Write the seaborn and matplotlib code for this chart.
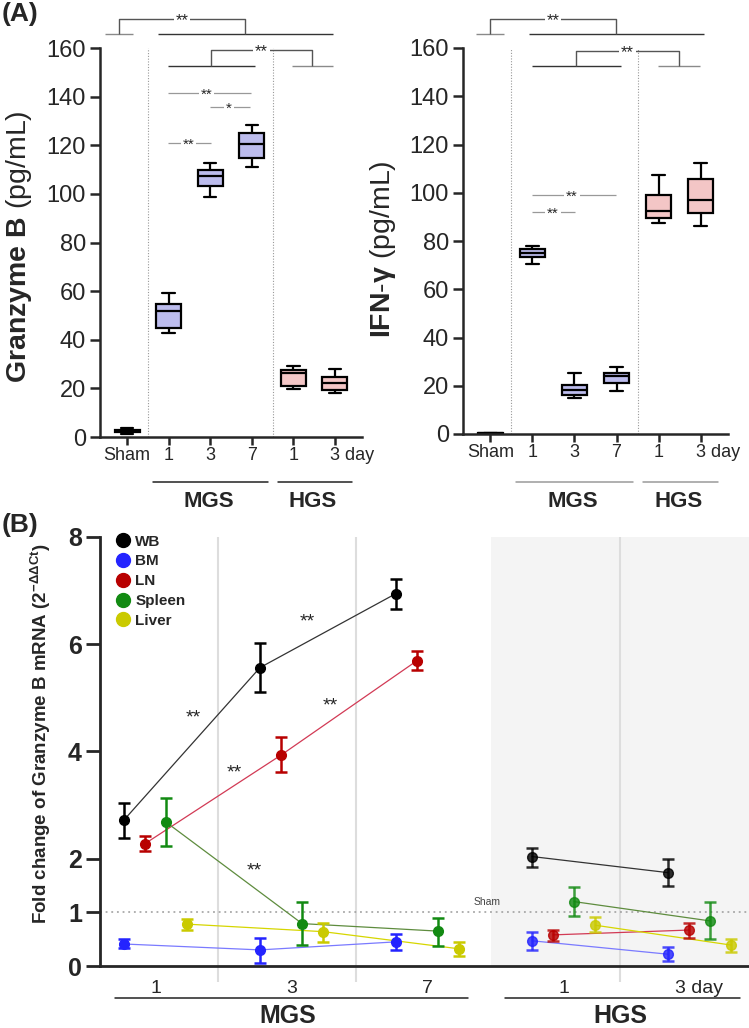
import numpy as np
import pandas as pd
import matplotlib
matplotlib.use("Agg")
import matplotlib.pyplot as plt
import matplotlib.transforms as mtransforms
from matplotlib.lines import Line2D
import seaborn as sns

# ---- panel A data: (min, q1, median, q3, max) ----
groups = ["Sham", "MGS 1", "MGS 3", "MGS 7", "HGS 1", "HGS 3"]
tick_labels = ["Sham", "1", "3", "7", "1", "3 day"]
gzmb_boxes = [[1.4, 1.9, 2.3, 2.8, 3.7],
              [42.8, 44.9, 51.7, 54.9, 59.4],
              [98.8, 103.2, 107.4, 109.7, 112.7],
              [111.1, 114.7, 120.4, 125.1, 128.4],
              [19.8, 20.9, 26.3, 27.4, 29.1],
              [18.3, 19.5, 22.2, 24.7, 28.1]]
ifng_boxes = [[0.1, 0.2, 0.3, 0.4, 0.5],
              [70.3, 73.2, 75.2, 76.7, 78.1],
              [15.1, 16.3, 18.1, 20.2, 25.2],
              [17.8, 21.0, 24.0, 25.4, 27.7],
              [87.3, 89.5, 92.4, 99.0, 107.5],
              [86.1, 91.7, 97.0, 105.7, 112.4]]
box_colors = {"Sham": "#ffffff", "MGS 1": "#b4b4f5", "MGS 3": "#b4b4f5", "MGS 7": "#b4b4f5",
              "HGS 1": "#fabebe", "HGS 3": "#fabebe"}

# ---- panel B data: mean and error bar ends per tissue (MGS 1,3,7, HGS 1,3) ----
tissues = ["WB", "BM", "LN", "Spleen", "Liver"]
timepoints = ["MGS 1", "MGS 3", "MGS 7", "HGS 1", "HGS 3"]
wb_mean = [2.72, 5.56, 6.94, 2.04, 1.74]
wb_lo = [2.38, 5.11, 6.66, 1.85, 1.50]
wb_hi = [3.04, 6.01, 7.22, 2.20, 1.99]
bm_mean = [0.41, 0.30, 0.45, 0.47, 0.22]
bm_lo = [0.33, 0.05, 0.30, 0.30, 0.10]
bm_hi = [0.50, 0.53, 0.60, 0.63, 0.35]
ln_mean = [2.28, 3.93, 5.69, 0.58, 0.67]
ln_lo = [2.14, 3.61, 5.51, 0.47, 0.53]
ln_hi = [2.43, 4.27, 5.87, 0.68, 0.81]
spleen_mean = [2.68, 0.79, 0.65, 1.20, 0.84]
spleen_lo = [2.24, 0.40, 0.38, 0.93, 0.50]
spleen_hi = [3.13, 1.19, 0.89, 1.48, 1.19]
liver_mean = [0.78, 0.64, 0.32, 0.76, 0.39]
liver_lo = [0.67, 0.45, 0.19, 0.63, 0.27]
liver_hi = [0.875, 0.81, 0.44, 0.91, 0.50]
day_labels = ["1", "3", "7", "1", "3 day"]

marker_colors = {"WB": "#000000", "BM": "#2424ff", "LN": "#b80000", "Spleen": "#128a12", "Liver": "#caca00"}
line_colors = {"WB": "#333333", "BM": "#7a7aff", "LN": "#d23a55", "Spleen": "#5e8c3e", "Liver": "#d6d600"}
offsets = {"WB": 0.0, "BM": 0.0, "LN": 0.155, "Spleen": 0.31, "Liver": 0.465}

sns.set_style("ticks")
plt.rcParams["font.family"] = ["Liberation Sans", "DejaVu Sans"]
plt.rcParams["mathtext.fontset"] = "custom"
plt.rcParams["mathtext.rm"] = "Liberation Sans"
plt.rcParams["mathtext.bf"] = "Liberation Sans:bold"
plt.rcParams["mathtext.it"] = "Liberation Sans:italic"
NARROW = ["Liberation Sans Narrow", "Liberation Sans"]

W, H = 749, 1028
fig = plt.figure(figsize=(W / 100, H / 100), dpi=100)
axA1 = fig.add_axes([100 / W, 1 - 437 / H, 262 / W, 389 / H])
axA2 = fig.add_axes([463 / W, 1 - 434 / H, 265 / W, 386 / H])
axB = fig.add_axes([100 / W, 1 - 966 / H, 649 / W, 429.3 / H])


def seg(ax, xs, ys, color, lw=1.0):
    ax.plot(xs, ys, color=color, lw=lw, clip_on=False, solid_capstyle="butt", zorder=3)


def stars(ax, x, y, s, size=12):
    ax.text(x, y - 0.8, s, ha="center", va="center", fontsize=size, clip_on=False, zorder=5,
            bbox=dict(fc="white", ec="none", pad=1.2))


def box_panel(ax, boxes, ylabel, label_xy, top, second, inner, under_color):
    df = pd.DataFrame({"group": np.repeat(groups, 5), "value": np.concatenate(boxes)})
    sns.boxplot(data=df, x="group", y="value", hue="group", order=groups, hue_order=groups,
                palette=box_colors, width=0.6, whis=(0, 100), showfliers=False,
                linewidth=1.6, linecolor="black", legend=False, ax=ax)
    ax.set_xlim(-0.65, 5.65)
    ax.set_ylim(0, 160)
    ax.set_yticks(range(0, 161, 20))
    ax.tick_params(axis="y", labelsize=17, width=1.8, length=7, pad=3)
    ax.tick_params(axis="x", width=1.8, length=6, pad=1)
    ax.set_xticks(range(6))
    ax.set_xticklabels(tick_labels, fontsize=13, family=NARROW)
    last = ax.get_xticklabels()[-1]
    last.set_horizontalalignment("left")
    last.set_transform(last.get_transform() + mtransforms.ScaledTranslation(-5 / 100, 0, fig.dpi_scale_trans))
    ax.set_xlabel("")
    ax.set_ylabel(ylabel, fontsize=20.5)
    ax.yaxis.set_label_coords(*label_xy)
    for sp in ["left", "bottom"]:
        ax.spines[sp].set_linewidth(1.8)
    sns.despine(ax=ax)
    ax.vlines([0.5, 3.5], 0, 160, colors="#999999", lw=0.8, linestyles=(0, (1, 1.5)), zorder=0)
    # brackets above the plot
    (sx0, sx1, lx0, lx1, v0, v1, yb, yt) = top
    seg(ax, [sx0, sx1], [yb, yb], "#8a8a8a")
    seg(ax, [lx0, lx1], [yb, yb], "#333333")
    seg(ax, [v0, v0, v1, v1], [yb, yt, yt, yb], "#555555")
    stars(ax, (v0 + v1) / 2, yt, "**")
    (mx0, mx1, hx0, hx1, w0, w1, yb2, yt2) = second
    seg(ax, [mx0, mx1], [yb2, yb2], "#333333")
    seg(ax, [hx0, hx1], [yb2, yb2], "#8a8a8a")
    seg(ax, [w0, w0, w1, w1], [yb2, yt2, yt2, yb2], "#555555")
    stars(ax, (w0 + w1) / 2, yt2, "**")
    for (x0, x1, y, s, xs) in inner:
        seg(ax, [x0, x1], [y, y], "#999999", lw=0.9)
        stars(ax, xs, y, s, size=11)
    # group underlines and names
    tr = mtransforms.blended_transform_factory(ax.transData, fig.transFigure)
    for (x0, x1, name) in [(0.62, 3.4, "MGS"), (3.62, 5.42, "HGS")]:
        ax.plot([x0, x1], [0.531, 0.531], color=under_color, lw=1.1, transform=tr, clip_on=False)
        ax.text((x0 + x1) / 2 - 0.05, 0.512, name, transform=tr, ha="center", va="center",
                fontsize=16, fontweight="bold", family=NARROW)


box_panel(axA1, gzmb_boxes, r"$\mathbf{Granzyme\ B}$ (pg/mL)", (-0.25, 0.49),
          (-0.53, 0.14, 0.745, 4.95, -0.19, 2.84, 165.8, 172.0),
          (0.99, 3.08, 3.97, 4.95, 2.02, 4.45, 152.7, 159.3),
          [(0.99, 2.98, 141.5, "**", 1.92), (2.0, 2.96, 135.8, "*", 2.45), (0.99, 2.02, 121.0, "**", 1.47)],
          "#222222")
box_panel(axA2, ifng_boxes, r"$\mathbf{IFN}$-$\mathbf{\gamma}$ (pg/mL)", (-0.245, 0.48),
          (-0.33, 0.33, 0.92, 5.07, 0.0, 2.99, 165.8, 172.0),
          (1.0, 3.1, 3.98, 4.98, 2.04, 4.48, 152.5, 158.8),
          [(1.0, 2.99, 99.0, "**", 1.94), (1.0, 2.01, 92.0, "**", 1.49)],
          "#9a9a9a")

# ---- panel B ----
means = {"WB": wb_mean, "BM": bm_mean, "LN": ln_mean, "Spleen": spleen_mean, "Liver": liver_mean}
los = {"WB": wb_lo, "BM": bm_lo, "LN": ln_lo, "Spleen": spleen_lo, "Liver": liver_lo}
his = {"WB": wb_hi, "BM": bm_hi, "LN": ln_hi, "Spleen": spleen_hi, "Liver": liver_hi}
rows = []
for t in tissues:
    for i, tp in enumerate(timepoints):
        rows.append({"tissue": t, "timepoint": tp, "model": tp.split()[0],
                     "pos": i + offsets[t], "mean": means[t][i], "lo": los[t][i], "hi": his[t][i]})
dfB = pd.DataFrame(rows)

axB.set_xlim(-0.176, 4.596)
axB.set_ylim(0, 8)
axB.axvspan(2.70, 4.596, color="#f4f4f4", zorder=0, lw=0)
axB.vlines([0.69, 1.71, 3.65], -0.3, 8, colors="#dddddd", lw=1.5, clip_on=False, zorder=0.5)
axB.axhline(1, color="#9a9a9a", ls=(0, (1.2, 2.5)), lw=1.1, zorder=1)
axB.text(2.67, 1.19, "Sham", fontsize=7.5, color="#444444", ha="center", va="center")

for model in ["MGS", "HGS"]:
    sub = dfB[dfB["model"] == model]
    sns.lineplot(data=sub, x="pos", y="mean", hue="tissue", palette=line_colors, estimator=None,
                 sort=False, lw=0.9, legend=False, ax=axB, zorder=2)
for t in tissues:
    sub = dfB[dfB["tissue"] == t]
    for model, a in [("MGS", 1.0), ("HGS", 0.82)]:
        s2 = sub[sub["model"] == model]
        axB.errorbar(s2["pos"], s2["mean"], yerr=[s2["mean"] - s2["lo"], s2["hi"] - s2["mean"]],
                     fmt="o", color=marker_colors[t], ms=7, elinewidth=1.8, capsize=4, capthick=1.8,
                     alpha=a, zorder=4)

for (x, y) in [(0.507, 4.62), (1.346, 6.41), (0.81, 3.60), (1.515, 4.85), (0.956, 1.78)]:
    axB.text(x, y, "**", fontsize=14, ha="center", va="center")

axB.set_yticks([0, 1, 2, 4, 6, 8])
axB.tick_params(axis="y", labelsize=18, width=2, length=10, pad=3)
for lab in axB.get_yticklabels():
    lab.set_fontweight("bold")
axB.set_xticks(np.arange(5) + 0.232)
axB.set_xticklabels(day_labels, fontsize=14)
axB.tick_params(axis="x", length=0, pad=10)
axB.set_xlabel("")
axB.set_ylabel(r"Fold change of Granzyme B mRNA (2$^{\mathbf{-\Delta\Delta Ct}}$)",
               fontsize=13.5, fontweight="bold")
axB.yaxis.set_label_coords(-0.072, 0.54)
axB.spines["left"].set_linewidth(2)
axB.spines["bottom"].set_linewidth(2)
sns.despine(ax=axB)

handles = [Line2D([], [], marker="o", ls="none", color=marker_colors[t], ms=10) for t in tissues]
leg = axB.legend(handles, tissues, loc="upper left", bbox_to_anchor=(0.0, 1.03), frameon=False,
                 handletextpad=0.0, labelspacing=0.38, borderaxespad=0.3, handlelength=1.6,
                 prop={"weight": "bold", "size": 11})

trB = mtransforms.blended_transform_factory(axB.transData, fig.transFigure)
for (x0, x1, name, xc) in [(-0.066, 2.53, "MGS", 1.206), (2.80, 4.53, "HGS", 3.65)]:
    axB.plot([x0, x1], [0.0292, 0.0292], color="#222222", lw=1.1, transform=trB, clip_on=False)
    axB.text(xc, 0.0115, name, transform=trB, ha="center", va="center", fontsize=18, fontweight="bold")

fig.text(2 / W, 1 - 14 / H, "(A)", fontsize=19, fontweight="bold", va="center", ha="left")
fig.text(2 / W, 1 - 525 / H, "(B)", fontsize=19, fontweight="bold", va="center", ha="left")

fig.savefig("out.png", dpi=100)
